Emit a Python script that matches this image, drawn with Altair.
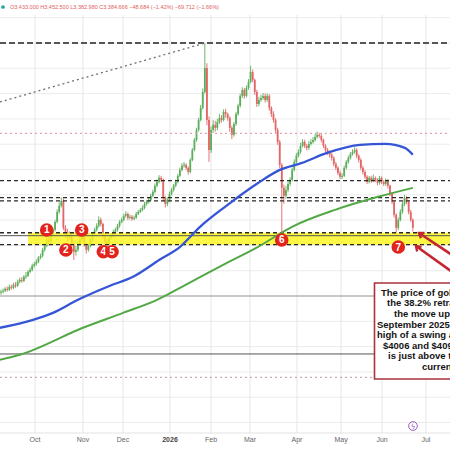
import altair as alt
import pandas as pd

# ---------------- data ----------------
# daily candles, index t = trading-day number from the left edge
closes = [
    3633, 3641, 3657, 3649, 3673, 3665, 3689, 3681, 3712, 3728,
    3720, 3752, 3760, 3791, 3807, 3839, 3854, 3870, 3902, 3918,
    3965, 3997, 4044, 4028, 4076, 4123, 4186, 4265, 4313, 4352,
    4139, 4107, 4060, 4091, 4012, 3949, 3965, 4012, 4044, 4076,
    4012, 3965, 3997, 4044, 4091, 4123, 4155, 4202, 4170, 4076,
    4028, 4012, 4060, 4076, 4107, 4123, 4155, 4186, 4202, 4234,
    4249, 4218, 4226, 4210, 4218, 4249, 4265, 4281, 4297, 4328,
    4344, 4360, 4392, 4423, 4471, 4502, 4534, 4518, 4376, 4328,
    4360, 4407, 4439, 4471, 4502, 4550, 4597, 4629, 4637, 4613,
    4581, 4676, 4755, 4834, 4913, 4992, 5087, 5213, 5403, 4992,
    4755, 4913, 4953, 4929, 4976, 5008, 4992, 5055, 5039, 5008,
    4929, 4874, 4960, 5039, 5103, 5182, 5229, 5182, 5245, 5292,
    5371, 5308, 5213, 5118, 5150, 5166, 5182, 5150, 5182, 5087,
    5039, 4992, 4913, 4818, 4637, 4455, 4392, 4439, 4486, 4518,
    4597, 4660, 4708, 4739, 4787, 4818, 4787, 4771, 4802, 4818,
    4834, 4858, 4874, 4866, 4834, 4787, 4755, 4731, 4716, 4692,
    4644, 4613, 4573, 4542, 4550, 4613, 4660, 4692, 4723, 4739,
    4755, 4708, 4676, 4613, 4581, 4542, 4502, 4534, 4510, 4534,
    4518, 4494, 4534, 4502, 4486, 4510, 4471, 4407, 4344, 4242,
    4139, 4202, 4265, 4328, 4376, 4344, 4265, 4202, 4139,
]
highs = [
    3650, 3660, 3670, 3675, 3690, 3690, 3705, 3710, 3730, 3745,
    3750, 3765, 3790, 3805, 3825, 3855, 3870, 3890, 3915, 3935,
    3980, 4015, 4060, 4070, 4090, 4140, 4200, 4285, 4340, 4380,
    4370, 4160, 4130, 4110, 4100, 4030, 3995, 4030, 4070, 4095,
    4090, 4025, 4020, 4060, 4105, 4140, 4175, 4230, 4220, 4180,
    4090, 4050, 4075, 4095, 4125, 4140, 4170, 4200, 4220, 4250,
    4270, 4260, 4245, 4240, 4235, 4265, 4280, 4295, 4315, 4345,
    4360, 4380, 4410, 4440, 4490, 4520, 4555, 4550, 4530, 4390,
    4380, 4425, 4455, 4485, 4520, 4565, 4615, 4650, 4660, 4650,
    4625, 4690, 4770, 4850, 4930, 5010, 5110, 5240, 5600, 5440,
    5020, 4940, 4990, 4985, 5000, 5040, 5030, 5075, 5080, 5050,
    5020, 4945, 4975, 5055, 5120, 5200, 5250, 5245, 5265, 5315,
    5420, 5390, 5320, 5230, 5175, 5190, 5205, 5200, 5200, 5195,
    5100, 5060, 5005, 4930, 4835, 4650, 4480, 4470, 4505, 4540,
    4615, 4680, 4730, 4760, 4810, 4840, 4835, 4800, 4825, 4840,
    4855, 4880, 4900, 4890, 4880, 4845, 4800, 4770, 4750, 4730,
    4705, 4660, 4625, 4590, 4570, 4630, 4675, 4710, 4740, 4760,
    4775, 4770, 4720, 4690, 4630, 4595, 4555, 4550, 4550, 4560,
    4545, 4530, 4550, 4545, 4515, 4530, 4525, 4480, 4420, 4355,
    4255, 4220, 4285, 4345, 4400, 4390, 4355, 4280, 4215,
]
lows = [
    3610, 3620, 3630, 3635, 3640, 3650, 3655, 3665, 3670, 3700,
    3705, 3710, 3735, 3750, 3780, 3795, 3825, 3840, 3860, 3890,
    3905, 3950, 3985, 4000, 4015, 4065, 4110, 4175, 4250, 4300,
    4120, 4060, 4030, 4040, 3990, 3885, 3920, 3950, 4000, 4030,
    3990, 3935, 3950, 3985, 4030, 4080, 4110, 4140, 4150, 4050,
    3990, 3985, 4000, 4045, 4060, 4095, 4110, 4140, 4175, 4190,
    4220, 4200, 4205, 4195, 4200, 4210, 4240, 4255, 4270, 4285,
    4315, 4330, 4350, 4380, 4410, 4460, 4490, 4500, 4350, 4300,
    4310, 4345, 4395, 4425, 4460, 4490, 4540, 4585, 4615, 4595,
    4560, 4570, 4665, 4745, 4820, 4900, 4980, 5075, 5200, 4950,
    4660, 4730, 4890, 4900, 4910, 4960, 4970, 4980, 5010, 4985,
    4900, 4840, 4860, 4945, 5025, 5090, 5165, 5160, 5170, 5230,
    5280, 5290, 5190, 5095, 5100, 5135, 5150, 5130, 5135, 5065,
    5015, 4970, 4890, 4795, 4610, 4090, 4330, 4370, 4420, 4470,
    4505, 4585, 4645, 4695, 4725, 4775, 4770, 4750, 4755, 4790,
    4805, 4820, 4845, 4850, 4815, 4770, 4735, 4715, 4695, 4670,
    4625, 4595, 4555, 4525, 4525, 4540, 4600, 4645, 4680, 4710,
    4725, 4690, 4655, 4595, 4560, 4525, 4485, 4490, 4495, 4500,
    4500, 4475, 4480, 4485, 4470, 4470, 4450, 4390, 4325, 4220,
    4075, 4120, 4190, 4250, 4310, 4325, 4245, 4185, 4110,
]
first_open = 3625

# moving averages (read at a few points)
blue_t = [-0.5, 15.4, 25, 37, 52.4, 63.5, 76.4, 86.1, 95.7, 107.7, 123.6, 134.1, 144.7, 156.7, 172.6, 184.6, 194.2, 198]
blue_p = [3349, 3412, 3467, 3570, 3681, 3752, 3888, 3989, 4147, 4305, 4494, 4597, 4652, 4731, 4795, 4802, 4771, 4716]
green_t = [-0.5, 9.1, 39.4, 58.7, 75, 86.1, 107.7, 123.6, 139.9, 160.6, 181.3, 198]
green_p = [3096, 3136, 3349, 3467, 3570, 3665, 3854, 3989, 4147, 4281, 4384, 4455]

# time axis
month_t = [16.35, 39.4, 58.65, 81.25, 100.96, 119.7, 142.3, 163.5, 183.2, 204.3]
month_labels = ["Oct", "Nov", "Dec", "2026", "Feb", "Mar", "Apr", "May", "Jun", "Jul"]
grid_prices = [2600, 2800, 3000, 3200, 3400, 3600, 3800, 4000, 4200, 4400,
               4600, 4800, 5000, 5200, 5400, 5600, 5800]

# drawn levels
top_level = [5600]
dashed_levels = [4512, 4377, 4352, 4100, 4006]
swing_low, swing_high = 4006, 4100
band_start_t = 13.0
retrace_level = [4077]
gray_level = [3600]
dark_level = [3142]
pink_dotted = [4886]
gray_dotted = [2957]
trend_t = [-0.48, 98.1]
trend_p = [5134, 5600]

# numbered touches
marker_t = [21.97, 31.2, 38.8, 49.2, 53.4, 134.95, 191.0]
marker_p = [4122, 3964, 4122, 3950, 3950, 4043, 3987]
marker_labels = ["1", "2", "3", "4", "5", "6", "7"]

# arrows (tail -> tip)
arrow_tail_t = [225.5, 225.5]
arrow_tail_p = [3830, 3690]
arrow_tip_t = [200.96, 199.5]
arrow_tip_p = [4098, 3995]

header = "O3,433.000 H3,452.500 L3,382.980 C3,384.666 \u221248.684 (\u22121.42%) \u221269.712 (\u22121.66%)"
box_lines = [
    "The price of gold fell to",
    "the 38.2% retracement of",
    "the move up from the",
    "September 2025 low. The",
    "high of a swing area between",
    "$4006 and $4095 which",
    "is just above the",
    "current price.",
]

# ---------------- chart ----------------
FONT = "Liberation Sans"
UP, DOWN = "#5aae5a", "#e36565"
xs = alt.Scale(domain=[-0.48, 215.87], nice=False, zero=False)
ys = alt.Scale(domain=[2382.75, 5940], nice=False, zero=False)


def xq(f):
    return alt.X(f, type="quantitative", scale=xs, axis=None)


def yq(f):
    return alt.Y(f, type="quantitative", scale=ys, axis=None)


one = pd.DataFrame({"a": [0]})
opens = [first_open] + closes[:-1]
df = pd.DataFrame({"t": list(range(len(closes))), "open": opens, "high": highs,
                   "low": lows, "close": closes})
df["dir"] = ["up" if c >= o else "down" for o, c in zip(df["open"], df["close"])]
ccol = alt.Color("dir:N", scale=alt.Scale(domain=["up", "down"], range=[UP, DOWN]), legend=None)

layers = []

# grid
layers.append(alt.Chart(pd.DataFrame({"p": grid_prices})).mark_rule(color="#ebebeb", strokeWidth=1)
              .encode(y=yq("p"), x=alt.value(0), x2=alt.value(450)))
mdf = pd.DataFrame({"t": month_t, "label": month_labels})
layers.append(alt.Chart(mdf).mark_rule(color="#e6e6e6", strokeWidth=1)
              .encode(x=xq("t"), y=alt.value(15), y2=alt.value(433)))
layers.append(alt.Chart(one).mark_rule(color="#e3e3e3", strokeWidth=1)
              .encode(y=alt.value(433), x=alt.value(0), x2=alt.value(450)))

# candles
base = alt.Chart(df)
layers.append(base.mark_rule(strokeWidth=0.9).encode(x=xq("t"), y=yq("low"), y2="high", color=ccol))
layers.append(base.mark_rule(strokeWidth=1.8).encode(x=xq("t"), y=yq("open"), y2="close", color=ccol))

# yellow swing area
band = pd.DataFrame({"t0": [band_start_t], "p0": [swing_low], "p1": [swing_high]})
layers.append(alt.Chart(band).mark_rect(color="#fbf41c", opacity=0.82)
              .encode(x=xq("t0"), x2=alt.value(450), y=yq("p0"), y2="p1"))


def hline(levels, **kw):
    return (alt.Chart(pd.DataFrame({"p": levels})).mark_rule(**kw)
            .encode(y=yq("p"), x=alt.value(0), x2=alt.value(450)))


layers.append(hline(pink_dotted, color="#e2a3ad", strokeWidth=1.2, strokeDash=[2, 3]))
layers.append(hline(gray_dotted, color="#c9aab0", strokeWidth=1.2, strokeDash=[2, 3]))
layers.append(hline(gray_level, color="#9a9a9a", strokeWidth=1))
layers.append(hline(dark_level, color="#555555", strokeWidth=1))
layers.append(hline(retrace_level, color="#555555", strokeWidth=1))
layers.append(hline(top_level, color="#555555", strokeWidth=2, strokeDash=[6, 3]))
layers.append(hline(dashed_levels, color="#2a2a2a", strokeWidth=1.3, strokeDash=[4, 3]))

# dotted trend line
layers.append(alt.Chart(pd.DataFrame({"t": trend_t, "p": trend_p})).mark_line(
    color="#707070", strokeWidth=1.3, strokeDash=[2, 3], clip=True).encode(x=xq("t"), y=yq("p")))

# moving averages
layers.append(alt.Chart(pd.DataFrame({"t": green_t, "p": green_p})).mark_line(
    color="#52a845", strokeWidth=2, interpolate="monotone", clip=True).encode(x=xq("t"), y=yq("p")))
layers.append(alt.Chart(pd.DataFrame({"t": blue_t, "p": blue_p})).mark_line(
    color="#3555d6", strokeWidth=2.3, interpolate="monotone", clip=True).encode(x=xq("t"), y=yq("p")))

# numbered markers
mk = pd.DataFrame({"t": marker_t, "p": marker_p, "label": marker_labels})
for i in range(len(marker_labels)):
    sub = mk.iloc[[i]]
    layers.append(alt.Chart(sub).mark_circle(size=185, color="#e3241d", opacity=1)
                  .encode(x=xq("t"), y=yq("p")))
    layers.append(alt.Chart(sub).mark_text(color="white", fontSize=10, fontWeight="bold", font=FONT,
                                           align="center", baseline="middle", dy=0.5)
                  .encode(x=xq("t"), y=yq("p"), text="label:N"))

# arrows
ar = pd.DataFrame({"t0": arrow_tail_t, "p0": arrow_tail_p, "t1": arrow_tip_t, "p1": arrow_tip_p})
layers.append(alt.Chart(ar).mark_rule(color="#c4262e", strokeWidth=2.6, clip=True)
              .encode(x=xq("t0"), y=yq("p0"), x2="t1", y2="p1"))
layers.append(alt.Chart(ar.iloc[[0]]).mark_point(shape="M-0.9,1.3L0,0L0.9,1.3", filled=False, size=50,
                                                 color="#c4262e", strokeWidth=2.4, angle=305, opacity=1)
              .encode(x=xq("t1"), y=yq("p1")))
layers.append(alt.Chart(ar.iloc[[1]]).mark_point(shape="M-0.9,1.3L0,0L0.9,1.3", filled=False, size=50,
                                                 color="#c4262e", strokeWidth=2.4, angle=313, opacity=1)
              .encode(x=xq("t1"), y=yq("p1")))

# text box
layers.append(alt.Chart(one).mark_rect(fill="white", stroke="#a8323e", strokeWidth=1.6)
              .encode(x=alt.value(374.5), x2=alt.value(600), y=alt.value(283), y2=alt.value(379)))
line_x = [381, 387, 394, 377, 377, 383, 388, 422]
line_y = [292.7, 303.3, 314.3, 325, 335.3, 345.6, 356.2, 366.7]
for s, lx, ly in zip(box_lines, line_x, line_y):
    layers.append(alt.Chart(one).mark_text(align="left", baseline="middle", fontSize=9.5,
                                           fontWeight="bold", font=FONT, color="#141414")
                  .encode(x=alt.value(lx), y=alt.value(ly), text=alt.value(s)))

# x-axis month labels
layers.append(alt.Chart(mdf).transform_filter("datum.label != '2026'").mark_text(
    fontSize=7, font=FONT, color="#666666", align="center", baseline="middle")
    .encode(x=xq("t"), y=alt.value(439.5), text="label:N"))
layers.append(alt.Chart(mdf).transform_filter("datum.label == '2026'").mark_text(
    fontSize=7, font=FONT, color="#444444", fontWeight="bold", align="center", baseline="middle")
    .encode(x=xq("t"), y=alt.value(439.5), text="label:N"))

# header
layers.append(alt.Chart(one).mark_circle(size=14, color="#26a69a", opacity=1)
              .encode(x=alt.value(3), y=alt.value(7)))
layers.append(alt.Chart(one).mark_text(align="left", baseline="middle", fontSize=5.5, font=FONT,
                                       color="#e06060")
              .encode(x=alt.value(10), y=alt.value(7), text=alt.value(header)))

# lightning icon
layers.append(alt.Chart(one).mark_point(shape="circle", size=75, filled=False, color="#a155c9",
                                        strokeWidth=1, opacity=1)
              .encode(x=alt.value(413), y=alt.value(426)))
layers.append(alt.Chart(one).mark_text(fontSize=7, font="DejaVu Sans", color="#a155c9",
                                       align="center", baseline="middle")
              .encode(x=alt.value(413), y=alt.value(426.5), text=alt.value("\u03df")))

chart = alt.layer(*layers).properties(
    width=450, height=450, padding=0,
    autosize=alt.AutoSizeParams(type="none"),
).configure_view(stroke=None)

chart.save("out.html", embed_options={"renderer": "svg", "actions": False})
